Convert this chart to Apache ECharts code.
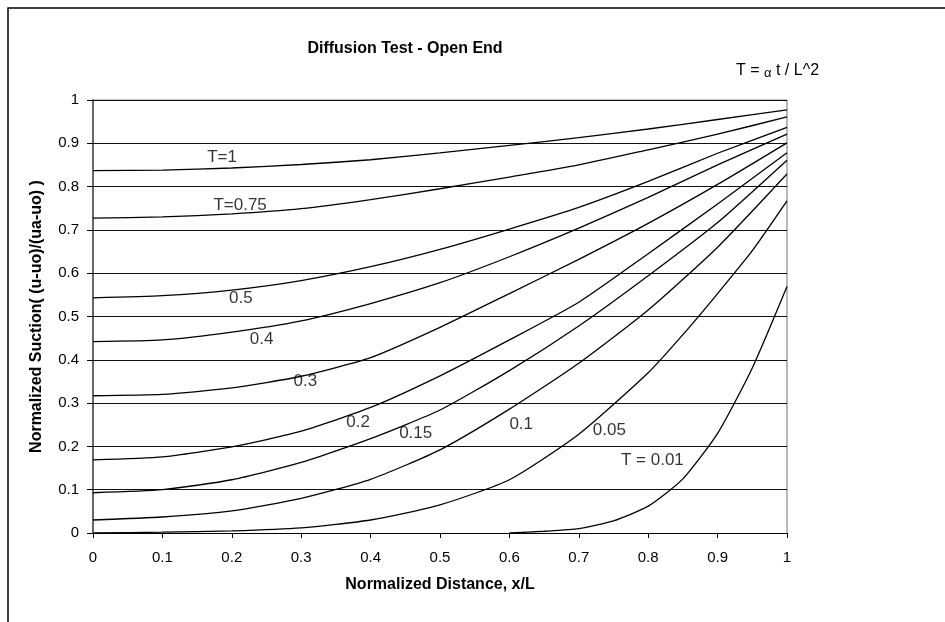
<!DOCTYPE html>
<html>
<head>
<meta charset="utf-8">
<script src="https://cdn.jsdelivr.net/npm/echarts@6/dist/echarts.min.js"></script>
<style>
  html, body { margin: 0; padding: 0; background: #fff; }
  #main { width: 945px; height: 622px; }
</style>
</head>
<body>
<div id="main"></div>
<script>
// x positions (x/L)
var xs = [0, 0.1, 0.2, 0.3, 0.4, 0.5, 0.6, 0.7, 0.8, 0.9, 1];
// curves
var t1   = [0.837, 0.838, 0.843, 0.851, 0.862, 0.878, 0.895, 0.913, 0.933, 0.955, 0.977];
var t075 = [0.727, 0.730, 0.737, 0.749, 0.770, 0.795, 0.822, 0.850, 0.885, 0.921, 0.961];
var t05  = [0.543, 0.548, 0.561, 0.583, 0.615, 0.655, 0.702, 0.752, 0.812, 0.877, 0.937];
var t04  = [0.442, 0.446, 0.464, 0.490, 0.530, 0.578, 0.638, 0.704, 0.775, 0.850, 0.921];
var t03  = [0.317, 0.320, 0.335, 0.362, 0.405, 0.475, 0.553, 0.632, 0.715, 0.805, 0.901];
var t02  = [0.169, 0.176, 0.199, 0.235, 0.290, 0.363, 0.446, 0.533, 0.645, 0.760, 0.878];
var t015 = [0.093, 0.100, 0.123, 0.163, 0.218, 0.284, 0.375, 0.478, 0.594, 0.717, 0.861];
var t01  = [0.030, 0.037, 0.051, 0.080, 0.124, 0.192, 0.286, 0.392, 0.515, 0.660, 0.829];
var xs005 = [0, 0.1, 0.2, 0.3, 0.4, 0.5, 0.6, 0.7, 0.8, 0.85, 0.9, 0.95, 1];
var t005  = [0, 0.002, 0.005, 0.012, 0.030, 0.065, 0.123, 0.228, 0.370, 0.458, 0.553, 0.652, 0.767];
var xs001 = [0.6, 0.65, 0.7, 0.75, 0.8, 0.85, 0.9, 0.95, 1];
var t001  = [0, 0.004, 0.010, 0.028, 0.062, 0.125, 0.230, 0.381, 0.569];

// curve labels
var labelText = ["T=1", "T=0.75", "0.5", "0.4", "0.3", "0.2", "0.15", "0.1", "0.05", "T = 0.01"];
var labelX = [0.186, 0.212, 0.213, 0.243, 0.306, 0.382, 0.465, 0.617, 0.744, 0.806];
var labelY = [0.868, 0.757, 0.541, 0.448, 0.351, 0.256, 0.231, 0.251, 0.237, 0.167];

var FONT = "'Liberation Sans', Arial, sans-serif";

function pairs(x, y) {
  return y.map(function (v, i) { return [x[i], v]; });
}

function curve(name, x, y) {
  return {
    name: name,
    type: "line",
    data: pairs(x, y),
    showSymbol: false,
    smooth: 0.2,
    lineStyle: { color: "#000", width: 1.3 },
    silent: true
  };
}

var chart = echarts.init(document.getElementById("main"));
var option = {
  backgroundColor: "#fff",
  animation: false,
  title: {
    text: "Diffusion Test - Open End",
    left: 400,
    top: 36,
    textAlign: "center",
    textStyle: { fontFamily: FONT, fontSize: 16, fontWeight: "bold", color: "#000" }
  },
  grid: { left: 93, right: 158, top: 100, bottom: 89 },
  xAxis: {
    type: "value",
    min: 0,
    max: 1,
    interval: 0.1,
    name: "Normalized Distance, x/L",
    nameLocation: "middle",
    nameGap: 44,
    nameTextStyle: { fontFamily: FONT, fontSize: 16, fontWeight: "bold", color: "#000" },
    axisLine: { lineStyle: { color: "#000", width: 1 } },
    axisTick: { show: true, length: 5, lineStyle: { color: "#000" } },
    axisLabel: { fontFamily: FONT, fontSize: 15, color: "#000", margin: 17 },
    splitLine: { show: false }
  },
  yAxis: {
    type: "value",
    min: 0,
    max: 1,
    interval: 0.1,
    name: "Normalized Suction( (u-uo)/(ua-uo) )",
    nameLocation: "middle",
    nameGap: 48,
    nameTextStyle: { fontFamily: FONT, fontSize: 16, fontWeight: "bold", color: "#000" },
    axisLine: { show: true, lineStyle: { color: "#333", width: 1.5 } },
    axisTick: { show: true, length: 6, lineStyle: { color: "#000" } },
    axisLabel: { fontFamily: FONT, fontSize: 15, color: "#000", margin: 14 },
    splitLine: { show: true, lineStyle: { color: "#111", width: 1 } }
  },
  graphic: [
    { type: "rect", shape: { x: 8, y: 8, width: 1000, height: 1000 },
      style: { fill: null, stroke: "#000", lineWidth: 1.5 }, silent: true },
    { type: "line", shape: { x1: 787, y1: 100, x2: 787, y2: 533 },
      style: { stroke: "#888", lineWidth: 1.2 }, silent: true },
    { type: "line", shape: { x1: 93, y1: 100, x2: 787, y2: 100 },
      style: { stroke: "#888", lineWidth: 1.2 }, silent: true },
    { type: "text", left: 736, top: 63, silent: true,
      style: {
        text: "T = {a|α} t / L^2",
        fontFamily: FONT, fontSize: 16, fill: "#000",
        rich: { a: { fontFamily: FONT, fontSize: 13, padding: [5, 0, 0, 0] } }
      } }
  ],
  series: [
    curve("T=1", xs, t1),
    curve("T=0.75", xs, t075),
    curve("T=0.5", xs, t05),
    curve("T=0.4", xs, t04),
    curve("T=0.3", xs, t03),
    curve("T=0.2", xs, t02),
    curve("T=0.15", xs, t015),
    curve("T=0.1", xs, t01),
    curve("T=0.05", xs005, t005),
    curve("T=0.01", xs001, t001),
    {
      name: "labels",
      type: "scatter",
      symbolSize: 0,
      silent: true,
      z: 5,
      data: labelText.map(function (t, i) { return { name: t, value: [labelX[i], labelY[i]] }; }),
      label: {
        show: true,
        position: "inside",
        formatter: function (p) { return p.name; },
        fontFamily: FONT,
        fontSize: 17,
        color: "#000"
      }
    }
  ]
};
chart.setOption(option);
</script>
</body>
</html>
